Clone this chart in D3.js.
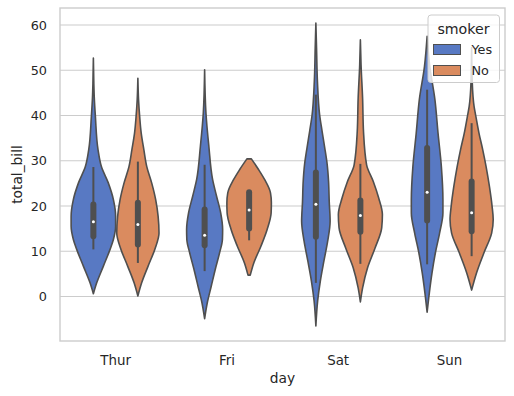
<!DOCTYPE html>
<html>
  <head>
    <script src="https://d3js.org/d3.v7.min.js"></script>
    <style>
      body { margin: 0; background: #fff; }
      text { font-family: "DejaVu Sans", sans-serif; fill: #262626; }
    </style>
  </head>
  <body>
    <svg id="chart"></svg>
<script>
// categories
const days = ['Thur', 'Fri', 'Sat', 'Sun'];
const smokers = ['Yes', 'No'];
const yTicks = [0, 10, 20, 30, 40, 50, 60];

// violin outlines: total_bill levels and relative half-widths (0..1)
const thurYesLevels = [0.6, 3.0, 6.7, 10.4, 12.6, 15.5, 17.7, 21.4, 25.1, 28.7, 32.4, 39.8, 44.0, 47.1, 52.7];
const thurYesWidths = [0, 0.15, 0.45, 0.75, 0.90, 1.0, 1.0, 0.90, 0.67, 0.36, 0.21, 0.09, 0.04, 0.02, 0];
const thurNoLevels = [0.1, 3.0, 6.7, 10.4, 14.0, 17.7, 21.4, 25.1, 28.7, 32.4, 36.1, 39.8, 43.5, 48.2];
const thurNoWidths = [0, 0.17, 0.46, 0.76, 0.95, 0.91, 0.80, 0.62, 0.40, 0.27, 0.15, 0.08, 0.03, 0];
const friYesLevels = [-4.9, -1.4, 2.3, 6.0, 9.6, 12.6, 14.8, 18.5, 22.1, 25.8, 33.2, 40.5, 50.1];
const friYesWidths = [0, 0.12, 0.30, 0.48, 0.67, 0.80, 0.81, 0.72, 0.54, 0.36, 0.19, 0.06, 0];
const friNoLevels = [4.7, 7.4, 11.1, 14.8, 18.5, 20.7, 22.9, 25.8, 28.0, 30.4];
const friNoWidths = [0.05, 0.21, 0.53, 0.81, 0.99, 1.0, 0.96, 0.70, 0.43, 0.10];
const satYesLevels = [-6.5, -1.0, 3.4, 7.8, 12.2, 16.6, 21.0, 25.4, 29.1, 32.8, 36.5, 40.1, 47.5, 54.9, 60.4];
const satYesWidths = [0, 0.08, 0.20, 0.36, 0.53, 0.64, 0.60, 0.57, 0.51, 0.40, 0.28, 0.17, 0.07, 0.03, 0];
const satNoLevels = [-1.2, 1.9, 6.3, 10.7, 15.2, 18.1, 21.8, 25.4, 29.1, 36.5, 43.8, 51.2, 56.7];
const satNoWidths = [0, 0.10, 0.32, 0.66, 0.96, 0.99, 0.82, 0.58, 0.28, 0.14, 0.10, 0.03, 0];
const sunYesLevels = [-3.5, 0.8, 5.2, 9.6, 14.0, 18.5, 21.4, 28.7, 36.1, 43.5, 50.8, 57.5];
const sunYesWidths = [0, 0.10, 0.22, 0.37, 0.56, 0.71, 0.71, 0.64, 0.49, 0.35, 0.12, 0];
const sunNoLevels = [1.4, 5.2, 9.6, 14.0, 17.0, 19.9, 24.3, 28.7, 32.4, 36.1, 39.8, 42.0, 47.1, 55.0];
const sunNoWidths = [0, 0.22, 0.55, 0.90, 0.97, 0.92, 0.80, 0.65, 0.50, 0.33, 0.19, 0.11, 0.03, 0];

// inner box: [low whisker, q1, median, q3, high whisker]
const thurYesBox = [10.4, 13.3, 16.5, 20.3, 28.6];
const thurNoBox = [7.4, 11.5, 15.9, 20.7, 29.8];
const friYesBox = [5.6, 11.3, 13.5, 19.2, 29.1];
const friNoBox = [12.4, 15.0, 19.1, 23.0, 23.0];
const satYesBox = [3.0, 13.2, 20.4, 27.4, 44.6];
const satNoBox = [7.2, 14.3, 17.9, 21.2, 29.3];
const sunYesBox = [7.1, 16.8, 23.0, 32.8, 45.7];
const sunNoBox = [8.9, 14.4, 18.5, 25.4, 38.3];

const violins = [
  { day: 'Thur', smoker: 'Yes', levels: thurYesLevels, widths: thurYesWidths, box: thurYesBox },
  { day: 'Thur', smoker: 'No', levels: thurNoLevels, widths: thurNoWidths, box: thurNoBox },
  { day: 'Fri', smoker: 'Yes', levels: friYesLevels, widths: friYesWidths, box: friYesBox },
  { day: 'Fri', smoker: 'No', levels: friNoLevels, widths: friNoWidths, box: friNoBox },
  { day: 'Sat', smoker: 'Yes', levels: satYesLevels, widths: satYesWidths, box: satYesBox },
  { day: 'Sat', smoker: 'No', levels: satNoLevels, widths: satNoWidths, box: satNoBox },
  { day: 'Sun', smoker: 'Yes', levels: sunYesLevels, widths: sunYesWidths, box: sunYesBox },
  { day: 'Sun', smoker: 'No', levels: sunNoLevels, widths: sunNoWidths, box: sunNoBox }
];

const width = 514, height = 396,
    margin = { top: 8, right: 9, bottom: 55, left: 60 },
    lineGray = '#4f4f4f',
    gridGray = '#cccccc';

const svg = d3.select('#chart')
    .attr('width', width)
    .attr('height', height);

const x = d3.scaleBand()
    .domain(days)
    .range([margin.left, width - margin.right])
    .padding(0);

const hue = d3.scaleBand()
    .domain(smokers)
    .range([-0.4, 0.4]); // fraction of a day band

const y = d3.scaleLinear()
    .domain([-9.85, 63.75])
    .range([height - margin.bottom, margin.top]);

const color = d3.scaleOrdinal()
    .domain(smokers)
    .range(['#5879c3', '#da8b5f']);

// half-width of one violin in px
const w = d3.scaleLinear().domain([0, 1]).range([0, x.bandwidth() * 0.2]);

const centerOf = d => x(d.day) + x.bandwidth() / 2 + (hue(d.smoker) + hue.bandwidth() / 2) * x.bandwidth();

/***** GRID *****/
svg.append('g')
    .selectAll('line')
    .data(yTicks)
    .join('line')
      .attr('x1', margin.left)
      .attr('x2', width - margin.right)
      .attr('y1', d => y(d))
      .attr('y2', d => y(d))
      .attr('stroke', gridGray)
      .attr('stroke-width', 1.1);

/***** VIOLINS *****/
const area = d3.area().curve(d3.curveMonotoneY);

violins.forEach(v => {
    const cx = centerOf(v);
    const pts = v.levels.map((lv, i) => ({ v: lv, w: v.widths[i] }));
    area.y(d => y(d.v))
        .x0(d => cx - w(d.w))
        .x1(d => cx + w(d.w));

    svg.append('path')
        .attr('d', area(pts))
        .attr('fill', color(v.smoker))
        .attr('stroke', lineGray)
        .attr('stroke-width', 1.6)
        .attr('stroke-linejoin', 'round');

    // inner box
    svg.append('line')
        .attr('x1', cx).attr('x2', cx)
        .attr('y1', y(v.box[0])).attr('y2', y(v.box[4]))
        .attr('stroke', lineGray)
        .attr('stroke-width', 2);
    svg.append('line')
        .attr('x1', cx).attr('x2', cx)
        .attr('y1', y(v.box[1])).attr('y2', y(v.box[3]))
        .attr('stroke', lineGray)
        .attr('stroke-width', 6)
        .attr('stroke-linecap', 'round');
    svg.append('circle')
        .attr('cx', cx)
        .attr('cy', y(v.box[2]))
        .attr('r', 1.5)
        .attr('fill', '#fff');
});

/***** SPINES *****/
svg.append('rect')
    .attr('x', margin.left)
    .attr('y', margin.top)
    .attr('width', width - margin.left - margin.right)
    .attr('height', height - margin.top - margin.bottom)
    .attr('fill', 'none')
    .attr('stroke', gridGray)
    .attr('stroke-width', 1.4);

/***** AXES *****/
const yAxis = svg.append('g')
    .attr('transform', `translate(${margin.left},0)`)
    .call(d3.axisLeft(y).tickValues(yTicks).tickSize(0).tickPadding(13));
yAxis.select('.domain').remove();
yAxis.selectAll('text')
    .attr('font-size', 12.8)
    .attr('fill', '#262626');

const xAxis = svg.append('g')
    .attr('transform', `translate(0,${height - margin.bottom})`)
    .call(d3.axisBottom(x).tickSize(0).tickPadding(14));
xAxis.select('.domain').remove();
xAxis.selectAll('text')
    .attr('font-size', 13.4)
    .attr('fill', '#262626');

svg.append('text')
    .attr('x', (margin.left + width - margin.right) / 2)
    .attr('y', 383)
    .attr('text-anchor', 'middle')
    .attr('font-size', 13.8)
    .text('day');

svg.append('text')
    .attr('transform', `translate(22,${(margin.top + height - margin.bottom) / 2}) rotate(-90)`)
    .attr('text-anchor', 'middle')
    .attr('font-size', 13.8)
    .text('total_bill');

/***** LEGEND *****/
const legend = svg.append('g').attr('transform', 'translate(428,15)');
legend.append('rect')
    .attr('width', 71.5)
    .attr('height', 67.5)
    .attr('rx', 3)
    .attr('fill', '#fff')
    .attr('fill-opacity', 0.8)
    .attr('stroke', gridGray)
    .attr('stroke-width', 1);
legend.append('text')
    .attr('x', 35.5)
    .attr('y', 18.5)
    .attr('text-anchor', 'middle')
    .attr('font-size', 14.2)
    .text('smoker');
smokers.forEach((s, i) => {
    legend.append('rect')
        .attr('x', 5.5)
        .attr('y', 29.5 + i * 21)
        .attr('width', 27)
        .attr('height', 10)
        .attr('fill', color(s))
        .attr('stroke', lineGray)
        .attr('stroke-width', 1);
    legend.append('text')
        .attr('x', 43.5)
        .attr('y', 34.5 + i * 21)
        .attr('dy', '0.35em')
        .attr('font-size', 12.8)
        .text(s);
});
</script>
  </body>
</html>
